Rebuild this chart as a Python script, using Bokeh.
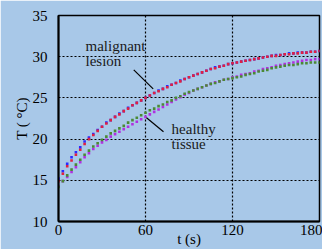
from bokeh.plotting import figure
from bokeh.models import Range1d, FixedTicker
from bokeh.core.properties import value
from bokeh.embed import file_html
from bokeh.resources import INLINE

BG = "#a8c8e8"
FONT = "Liberation Serif"

t = list(range(0, 181, 3))

mal_red = [14.9, 15.8, 16.7, 17.4, 18.1, 18.7, 19.4, 20.0, 20.5, 21.0, 21.5, 21.9, 22.3,
           22.7, 23.0, 23.4, 23.7, 24.1, 24.4, 24.7, 25.0, 25.3, 25.6, 25.8, 26.1, 26.3,
           26.6, 26.8, 27.0, 27.3, 27.5, 27.7, 27.9, 28.1, 28.3, 28.5, 28.6, 28.8, 28.9,
           29.1, 29.2, 29.3, 29.4, 29.5, 29.6, 29.7, 29.8, 29.9, 30.0, 30.1, 30.1, 30.2,
           30.3, 30.3, 30.4, 30.4, 30.5, 30.5, 30.6, 30.6, 30.7]
mal_blue = [15.2, 16.1, 17.0, 17.8, 18.4, 19.0, 19.7, 20.2, 20.6, 21.1, 21.5, 22.0, 22.3,
            22.7, 23.1, 23.4, 23.8, 24.1, 24.4, 24.7, 25.0, 25.3, 25.6, 25.9, 26.1, 26.4,
            26.6, 26.8, 27.1, 27.3, 27.5, 27.7, 27.9, 28.1, 28.3, 28.5, 28.7, 28.8, 28.9,
            29.1, 29.2, 29.3, 29.4, 29.5, 29.6, 29.7, 29.8, 29.9, 30.0, 30.1, 30.2, 30.2,
            30.3, 30.4, 30.4, 30.5, 30.5, 30.5, 30.6, 30.6, 30.7]
hea_green = [14.2, 14.9, 15.6, 16.3, 16.9, 17.5, 18.1, 18.6, 19.1, 19.5, 19.9, 20.3, 20.7,
             21.0, 21.3, 21.6, 22.0, 22.3, 22.6, 22.9, 23.2, 23.5, 23.7, 24.0, 24.2, 24.5,
             24.7, 25.0, 25.2, 25.5, 25.7, 25.9, 26.1, 26.3, 26.5, 26.7, 26.8, 27.0, 27.2,
             27.3, 27.4, 27.5, 27.6, 27.8, 27.9, 28.0, 28.2, 28.3, 28.4, 28.6, 28.7, 28.8,
             28.9, 29.0, 29.0, 29.1, 29.2, 29.2, 29.3, 29.3, 29.3]
hea_purple = [14.3, 14.9, 15.4, 16.0, 16.6, 17.2, 17.8, 18.3, 18.8, 19.2, 19.6, 19.9, 20.3,
              20.6, 20.9, 21.2, 21.5, 21.8, 22.1, 22.4, 22.7, 23.0, 23.3, 23.6, 23.9, 24.2,
              24.5, 24.8, 25.1, 25.4, 25.6, 25.9, 26.1, 26.3, 26.5, 26.7, 26.9, 27.0, 27.2,
              27.3, 27.5, 27.6, 27.8, 27.9, 28.0, 28.2, 28.3, 28.5, 28.6, 28.7, 28.9, 29.0,
              29.1, 29.2, 29.3, 29.4, 29.5, 29.6, 29.6, 29.7, 29.7]

x_ticks = [0, 60, 120, 180]
y_ticks = [10, 15, 20, 25, 30, 35]

label_x = [18.6, 18.6, 78, 78]
label_y = [31.3, 29.5, 21.2, 19.4]
label_text = ["malignant", "lesion", "healthy", "tissue"]

lead_x0 = [51.9, 60.7]
lead_y0 = [28.4, 22.6]
lead_x1 = [65.3, 72.4]
lead_y1 = [26.1, 20.9]

p = figure(width=322, height=249, output_backend="svg", toolbar_location=None,
           x_range=Range1d(0, 180), y_range=Range1d(10, 35),
           min_border_left=58, min_border_right=3, min_border_top=15, min_border_bottom=28)
p.background_fill_color = BG
p.border_fill_color = BG
p.outline_line_color = "black"
p.outline_line_width = 1.5

for ax in (p.xaxis[0], p.yaxis[0]):
    ax.axis_line_color = "black"
    ax.axis_line_width = 2
    ax.major_tick_line_color = None
    ax.minor_tick_line_color = None
    ax.major_label_text_font = FONT
    ax.major_label_text_font_size = "15px"
    ax.major_label_text_color = "black"
    ax.axis_label_text_font = FONT
    ax.axis_label_text_font_size = "15px"
    ax.axis_label_text_font_style = "normal"
    ax.axis_label_text_color = "black"

p.xaxis.ticker = FixedTicker(ticks=x_ticks)
p.yaxis.ticker = FixedTicker(ticks=y_ticks)
p.xaxis.axis_label = "t (s)"
p.yaxis.axis_label = "T ( °C)"
p.xaxis.major_label_standoff = -3
p.xaxis.axis_label_standoff = -7
p.yaxis.major_label_standoff = 5
p.yaxis.axis_label_standoff = 0

p.xgrid.ticker = FixedTicker(ticks=x_ticks)
p.ygrid.ticker = FixedTicker(ticks=y_ticks)
for g in (p.xgrid[0], p.ygrid[0]):
    g.grid_line_color = "black"
    g.grid_line_width = 1.2
    g.grid_line_dash = "2 2"

p.scatter(t, mal_blue, marker="square", size=2.6, color="#2a2aff", line_color=None)
p.scatter(t, mal_red, marker="square", size=2.6, color="#e02040", line_color=None)
p.scatter(t, hea_purple, marker="square", size=2.6, color="#b030e0", line_color=None)
p.scatter(t, hea_green, marker="square", size=2.6, color="#4a8a34", line_color=None)

p.segment(lead_x0, lead_y0, lead_x1, lead_y1, line_color="black", line_width=1.2)
p.text(label_x, label_y, text=label_text, text_font=value(FONT), text_font_size="15px",
       text_baseline="middle", text_align="left", text_color="#1a1a1a")

html = file_html(p, INLINE)
html = html.replace("<body>", '<body style="background-color:%s;">' % BG, 1)
open("out.html", "w").write(html)
